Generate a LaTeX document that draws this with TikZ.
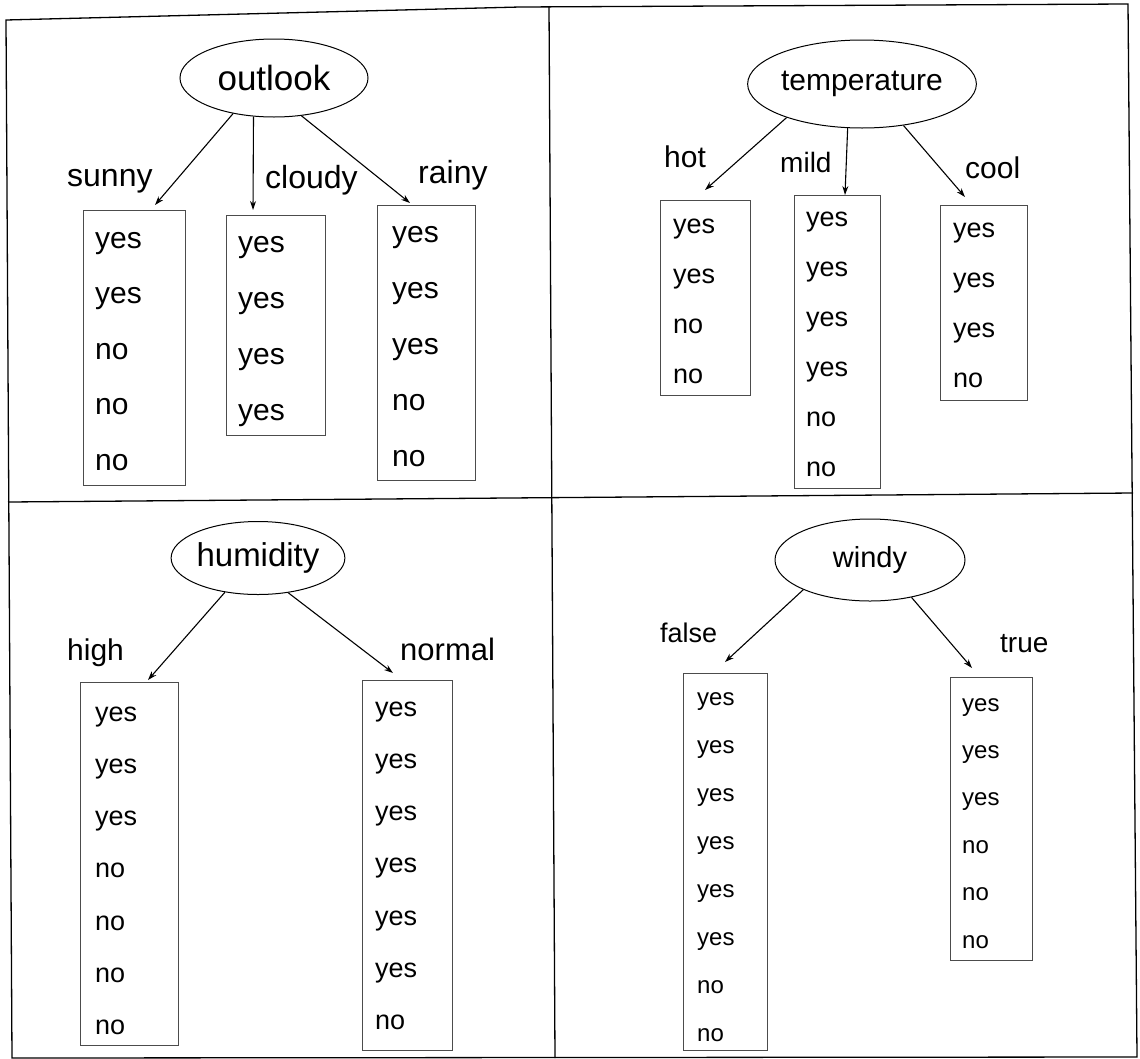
\documentclass[tikz,border=0pt]{standalone}
\usepackage{fontspec}
\setmainfont{Liberation Sans}
\usetikzlibrary{shapes.geometric,arrows.meta}

\tikzset{
    attr/.style={draw, ellipse, line width=1pt, inner sep=0pt},
    leafbox/.style={draw=black!70, line width=0.8pt, rectangle, inner sep=0pt},
    val/.style={anchor=base west, inner sep=0pt},
    branch/.style={anchor=base west, inner sep=0pt},
    split/.style={-{Stealth[length=9pt,width=6pt]}, line width=1.1pt},
}

\begin{document}
\begin{tikzpicture}[x=1pt,y=-1pt]
    \useasboundingbox (0,0) rectangle (1140,1058);

    % frame and the four panels
    \coordinate (TL) at (6,20);
    \coordinate (TM) at (520,7);
    \coordinate (TR) at (1128,4);
    \coordinate (BR) at (1137,1057);
    \coordinate (BL) at (12,1058);
    \draw[line width=1.3pt] (TL) -- (TM) -- (TR) -- (BR) -- (BL) -- cycle;
    \draw[line width=1.3pt] (549,6) -- (555,1058);
    \draw[line width=1.3pt] (8,502) -- (1133,493);

    % outlook
    \node[attr, minimum width=188, minimum height=78, font=\fontsize{35}{40}\selectfont] (outlook) at (274,78) {outlook};
    \coordinate (sunnyend) at (155,205);
    \coordinate (cloudyend) at (253,210);
    \coordinate (rainyend) at (410,203);
    \draw[split] (outlook.221) -- (sunnyend);
    \draw[split] (outlook.242) -- (cloudyend);
    \draw[split] (outlook.306) -- (rainyend);
    \begin{scope}[font=\fontsize{32}{38}\selectfont]
        \node[branch] (sunny) at (67,186) {sunny};
        \node[branch] (cloudy) at (265,188) {cloudy};
        \node[branch] (rainy) at (418,183) {rainy};
    \end{scope}
    \node[leafbox, minimum width=102, minimum height=275] (sunnybox) at (134,347.5) {};
    \node[leafbox, minimum width=99, minimum height=220] (cloudybox) at (275.5,325) {};
    \node[leafbox, minimum width=98, minimum height=275] (rainybox) at (426,342.5) {};
    \begin{scope}[font=\fontsize{30}{36}\selectfont]
        \foreach \v [count=\i] in {yes,yes,no,no,no}
            \node[val] (sunny\i) at (95,{248+55.5*(\i-1)}) {\v};
        \foreach \v [count=\i] in {yes,yes,yes,yes}
            \node[val] (cloudy\i) at (238,{252+56*(\i-1)}) {\v};
        \foreach \v [count=\i] in {yes,yes,yes,no,no}
            \node[val] (rainy\i) at (392,{242+56*(\i-1)}) {\v};
    \end{scope}

    % temperature
    \node[attr, minimum width=200, minimum height=88, font=\fontsize{30}{36}\selectfont] (temperature) at (862,84) {temperature};
    \coordinate (hotend) at (705,190);
    \coordinate (mildend) at (845,195);
    \coordinate (coolend) at (965,197);
    \draw[split] (temperature.204) -- (hotend);
    \draw[split] (temperature.252) -- (mildend);
    \draw[split] (temperature.315) -- (coolend);
    \node[branch, font=\fontsize{30}{36}\selectfont] (hot) at (664,167) {hot};
    \node[branch, font=\fontsize{28}{34}\selectfont] (mild) at (780,172) {mild};
    \node[branch, font=\fontsize{30}{36}\selectfont] (cool) at (965,178) {cool};
    \node[leafbox, minimum width=90, minimum height=195] (hotbox) at (705,297.5) {};
    \node[leafbox, minimum width=86, minimum height=293] (mildbox) at (837,341.5) {};
    \node[leafbox, minimum width=87, minimum height=195] (coolbox) at (983.5,302.5) {};
    \begin{scope}[font=\fontsize{27}{32}\selectfont]
        \foreach \v [count=\i] in {yes,yes,no,no}
            \node[val] (hot\i) at (673,{233+50*(\i-1)}) {\v};
        \foreach \v [count=\i] in {yes,yes,yes,yes,no,no}
            \node[val] (mild\i) at (806,{226+50*(\i-1)}) {\v};
        \foreach \v [count=\i] in {yes,yes,yes,no}
            \node[val] (cool\i) at (953,{237+50*(\i-1)}) {\v};
    \end{scope}

    % humidity
    \node[attr, minimum width=167, minimum height=73, font=\fontsize{33}{38}\selectfont] (humidity) at (258,558) {humidity};
    \coordinate (highend) at (148,680);
    \coordinate (normalend) at (393,673);
    \draw[split] (humidity.226) -- (highend);
    \draw[split] (humidity.311) -- (normalend);
    \node[branch, font=\fontsize{30}{36}\selectfont] (high) at (67,660) {high};
    \node[branch, font=\fontsize{31}{36}\selectfont] (normal) at (400,660) {normal};
    \node[leafbox, minimum width=98, minimum height=363] (highbox) at (129,863.5) {};
    \node[leafbox, minimum width=90, minimum height=370] (normalbox) at (407,865) {};
    \begin{scope}[font=\fontsize{27}{32}\selectfont]
        \foreach \v [count=\i] in {yes,yes,yes,no,no,no,no}
            \node[val] (high\i) at (95,{721+52.3*(\i-1)}) {\v};
        \foreach \v [count=\i] in {yes,yes,yes,yes,yes,yes,no}
            \node[val] (normal\i) at (375,{716+52.3*(\i-1)}) {\v};
    \end{scope}

    % windy
    \node[attr, minimum width=190, minimum height=82, font=\fontsize{29}{34}\selectfont] (windy) at (870,560) {windy};
    \coordinate (falseend) at (725,662);
    \coordinate (trueend) at (972,668);
    \draw[split] (windy.204) -- (falseend);
    \draw[split] (windy.318) -- (trueend);
    \node[branch, font=\fontsize{27}{32}\selectfont] (false) at (660,642) {false};
    \node[branch, font=\fontsize{28}{34}\selectfont] (true) at (1000,652) {true};
    \node[leafbox, minimum width=84, minimum height=377] (falsebox) at (725,861.5) {};
    \node[leafbox, minimum width=82, minimum height=283] (truebox) at (991,818.5) {};
    \begin{scope}[font=\fontsize{24}{29}\selectfont]
        \foreach \v [count=\i] in {yes,yes,yes,yes,yes,yes,no,no}
            \node[val] (false\i) at (697,{705+48*(\i-1)}) {\v};
        \foreach \v [count=\i] in {yes,yes,yes,no,no,no}
            \node[val] (true\i) at (962,{711+47.4*(\i-1)}) {\v};
    \end{scope}
\end{tikzpicture}
\end{document}
